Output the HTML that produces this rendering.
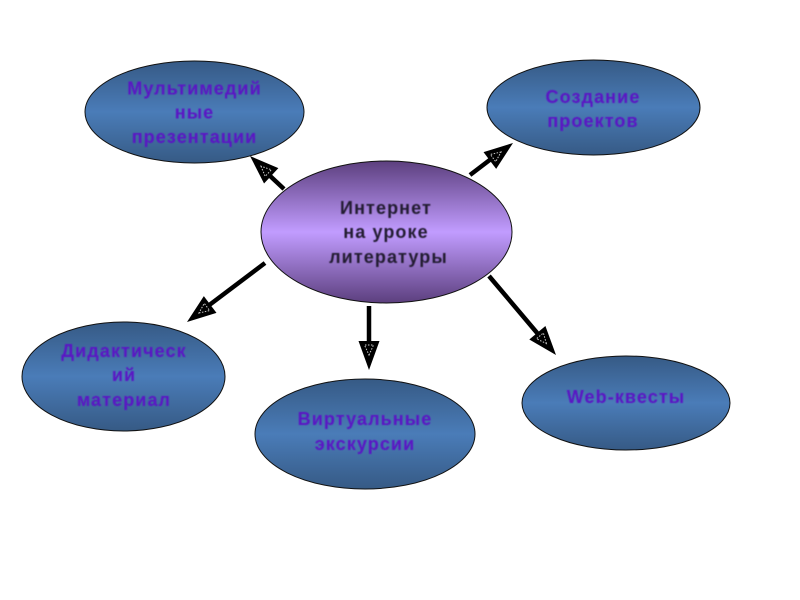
<!DOCTYPE html>
<html><head><meta charset="utf-8"><style>
html,body{margin:0;padding:0;background:#fff}
svg{display:block}
text{font-family:"Liberation Sans",sans-serif;font-weight:bold;font-size:18px;text-anchor:middle;letter-spacing:1.1px}
.p{fill:#5a12c4}
.k{fill:#221a30}
ellipse{stroke:#111;stroke-width:1}
</style></head><body>
<svg width="800" height="600" viewBox="0 0 800 600" xmlns="http://www.w3.org/2000/svg">
<defs>
<linearGradient id="b" x1="0" y1="0" x2="0" y2="1"><stop offset="0" stop-color="#365a85"/><stop offset=".5" stop-color="#4a7cb8"/><stop offset="1" stop-color="#365a85"/></linearGradient>
<linearGradient id="v" x1="0" y1="0" x2="0" y2="1"><stop offset="0" stop-color="#5c3f7e"/><stop offset=".5" stop-color="#c19cff"/><stop offset="1" stop-color="#5c3f7e"/></linearGradient>
<filter id="s" x="-5%" y="-20%" width="110%" height="140%"><feGaussianBlur stdDeviation=".45"/></filter>
<g id="h"><path d="M0 0L-29 -10.5L-29 10.5Z" fill="#000"/><path d="M-15 0L-25 -4.5L-25 4.5Z" fill="none" stroke="#ccc" stroke-width="1" stroke-dasharray="1.5 1.5"/></g>
</defs>
<ellipse cx="194.5" cy="112" rx="109.5" ry="51" fill="url(#b)"/>
<ellipse cx="593.5" cy="107.5" rx="106.5" ry="47.5" fill="url(#b)"/>
<ellipse cx="386.5" cy="232" rx="125.5" ry="71" fill="url(#v)"/>
<ellipse cx="123.5" cy="376.5" rx="101.5" ry="54.5" fill="url(#b)"/>
<ellipse cx="365" cy="434" rx="110" ry="55" fill="url(#b)"/>
<ellipse cx="626" cy="403" rx="104" ry="47" fill="url(#b)"/>
<g stroke="#000" stroke-width="4.5" fill="none">
<path d="M284 189L268 174"/><path d="M470 175L491 159"/><path d="M265 263L208 306"/><path d="M369 306L369 343"/><path d="M489 276L538 334"/>
</g>
<use href="#h" transform="translate(250 156) rotate(223)"/>
<use href="#h" transform="translate(513 143) rotate(-37)"/>
<use href="#h" transform="translate(187 322) rotate(143)"/>
<use href="#h" transform="translate(369 370) rotate(90)"/>
<use href="#h" transform="translate(556 355) rotate(50)"/>
<g filter="url(#s)">
<text class="p" x="194.5" y="94.5">Мультимедий</text>
<text class="p" x="194.5" y="118.5">ные</text>
<text class="p" x="194.5" y="143">презентации</text>
<text class="p" x="593" y="103">Создание</text>
<text class="p" x="593" y="127">проектов</text>
<text class="k" x="386" y="214">Интернет</text>
<text class="k" x="386" y="238">на уроке</text>
<text class="k" x="388.5" y="263">литературы</text>
<text class="p" x="124" y="357">Дидактическ</text>
<text class="p" x="124" y="381">ий</text>
<text class="p" x="124" y="406">материал</text>
<text class="p" x="365" y="425">Виртуальные</text>
<text class="p" x="365" y="450">экскурсии</text>
<text class="p" x="626" y="403">Web-квесты</text>
</g>
</svg>
</body></html>
